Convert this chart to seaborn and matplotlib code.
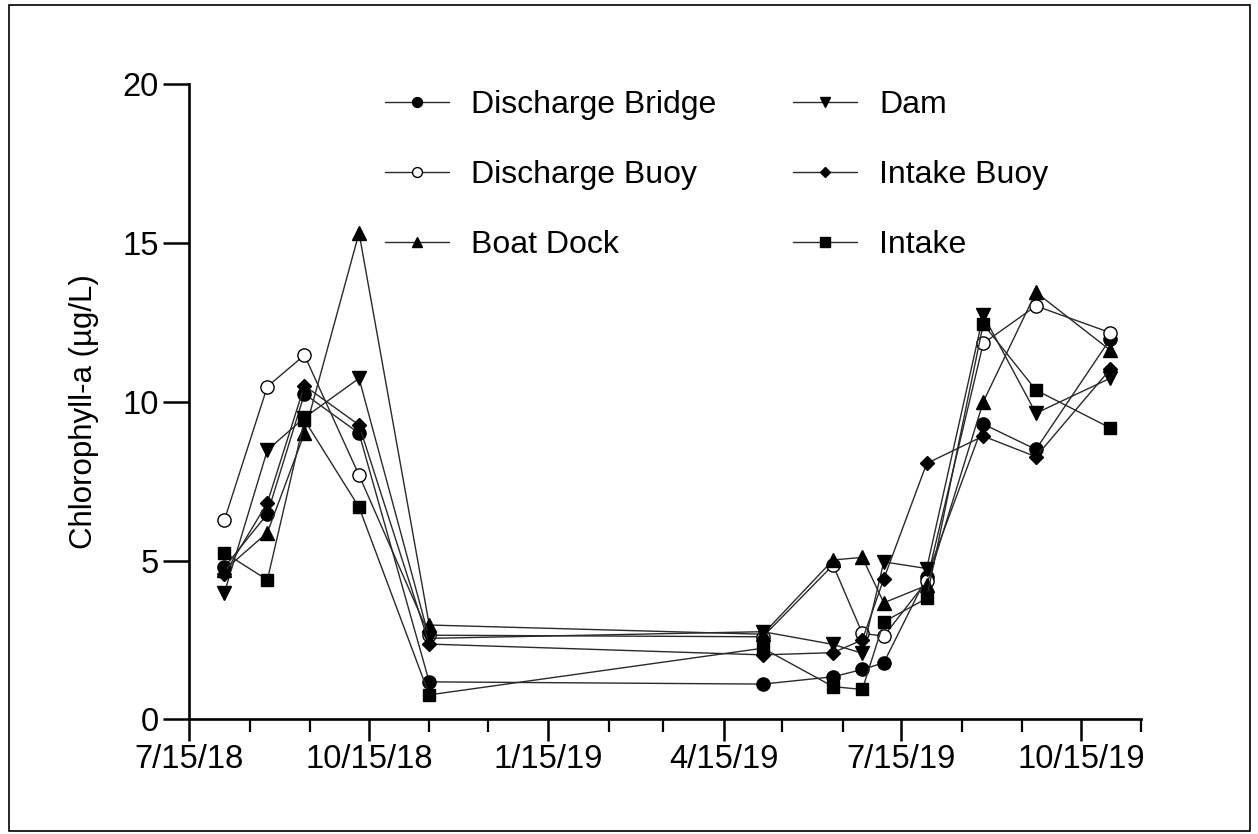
import datetime as dt

import matplotlib
matplotlib.use("Agg")
import matplotlib.pyplot as plt
import matplotlib.dates as mdates
from matplotlib.patches import Rectangle
import seaborn as sns

# Sampling dates
dates = [
    "2018-08-02", "2018-08-24", "2018-09-12", "2018-10-10", "2018-11-15",
    "2019-05-05", "2019-06-10", "2019-06-25", "2019-07-06", "2019-07-28",
    "2019-08-26", "2019-09-22", "2019-10-30",
]

# Chlorophyll-a (ug/L) per station
discharge_bridge = [4.79, 6.47, 10.25, 9.01, 1.18, 1.11, 1.34, 1.57, 1.78, 4.49, 9.30, 8.50, 11.97]
discharge_buoy = [6.28, 10.48, 11.47, 7.69, 2.65, 2.60, 4.86, 2.71, 2.62, 4.35, 11.84, 13.02, 12.18]
boat_dock = [4.70, 5.88, 9.01, 15.32, 2.97, 2.68, 5.02, 5.10, 3.67, 4.22, 10.00, 13.45, 11.63]
dam = [3.99, 8.48, 9.50, 10.74, 2.55, 2.76, 2.36, 2.08, 4.96, 4.75, 12.73, 9.64, 10.74]
intake_buoy = [4.58, 6.82, 10.51, 9.27, 2.37, 2.03, 2.10, 2.50, 4.42, 8.06, 8.92, 8.27, 11.02]
intake = [5.25, 4.39, 9.43, 6.68, 0.77, 2.24, 1.03, 0.94, 3.07, 3.81, 12.45, 10.37, 9.18]

station_names = ["Discharge Bridge", "Discharge Buoy", "Boat Dock", "Dam", "Intake Buoy", "Intake"]
station_values = [discharge_bridge, discharge_buoy, boat_dock, dam, intake_buoy, intake]

x_ticks = ["2018-07-15", "2018-10-15", "2019-01-15", "2019-04-15", "2019-07-15", "2019-10-15"]
y_ticks = [0, 5, 10, 15, 20]

sns.set_style("ticks")
plt.rcParams["font.family"] = ["Liberation Sans", "DejaVu Sans"]
plt.rcParams["text.color"] = "black"
plt.rcParams["axes.labelcolor"] = "black"

marker_styles = {
    "Discharge Bridge": dict(marker="o", ms=9.5, mfc="black"),
    "Discharge Buoy": dict(marker="o", ms=9.5, mfc="white"),
    "Boat Dock": dict(marker="^", ms=10, mfc="black"),
    "Dam": dict(marker="v", ms=10, mfc="black"),
    "Intake Buoy": dict(marker="D", ms=7, mfc="black"),
    "Intake": dict(marker="s", ms=9, mfc="black"),
}

fig = plt.figure(figsize=(12.58, 8.34), dpi=100)
ax = fig.add_axes([0.1505, 0.1375, 0.9072 - 0.1505, 0.8989 - 0.1375])

date_values = [dt.datetime.strptime(d, "%Y-%m-%d") for d in dates]
for name, vals in zip(station_names, station_values):
    st = marker_styles[name]
    sns.lineplot(
        x=date_values, y=vals, ax=ax, label=name,
        color="#2a2a2a", linewidth=1.0, sort=False,
        marker=st["marker"], markersize=st["ms"],
        markerfacecolor=st["mfc"], markeredgecolor="black",
        markeredgewidth=1.0, clip_on=False, zorder=3,
    )

ax.set_xlim(dt.datetime(2018, 7, 15), dt.datetime(2019, 11, 15))
ax.set_ylim(0, 20)

ax.set_xticks([dt.datetime.strptime(d, "%Y-%m-%d") for d in x_ticks])
ax.xaxis.set_major_formatter(
    plt.FuncFormatter(lambda v, pos: (lambda d: f"{d.month}/{d.day}/{d:%y}")(mdates.num2date(v)))
)
ax.xaxis.set_minor_locator(mdates.MonthLocator(bymonthday=15))
ax.set_yticks(y_ticks)

for side in ("top", "right"):
    ax.spines[side].set_visible(False)
for side in ("left", "bottom"):
    ax.spines[side].set_linewidth(1.9)
    ax.spines[side].set_color("black")

ax.tick_params(axis="x", which="major", direction="out", length=16, width=1.8,
               labelsize=23.5, pad=2, colors="black")
ax.tick_params(axis="x", which="minor", direction="out", length=9, width=1.6, colors="black")
ax.tick_params(axis="y", which="major", direction="out", length=19, width=1.8,
               labelsize=23.5, pad=3, colors="black")

ax.set_xlabel("")
ax.set_ylabel("Chlorophyll-a (µg/L)", fontsize=22.5, color="black")
ax.yaxis.set_label_coords(-0.095, 0.484)

handles, labels = ax.get_legend_handles_labels()
leg = ax.legend(
    handles, labels, ncol=2, frameon=False, fontsize=23,
    loc="upper left", bbox_to_anchor=(0.306, 0.892), bbox_transform=fig.transFigure,
    borderaxespad=0, borderpad=0, handlelength=2.0, handletextpad=0.7,
    columnspacing=2.4, labelspacing=1.25, markerscale=0.75,
)
for txt in leg.get_texts():
    txt.set_color("black")

# Outer frame around the whole figure
fig.patches.append(Rectangle((0.007, 0.004), 0.987, 0.99, transform=fig.transFigure,
                             fill=False, edgecolor="black", linewidth=1.2))

fig.savefig("out.png", dpi=100)
